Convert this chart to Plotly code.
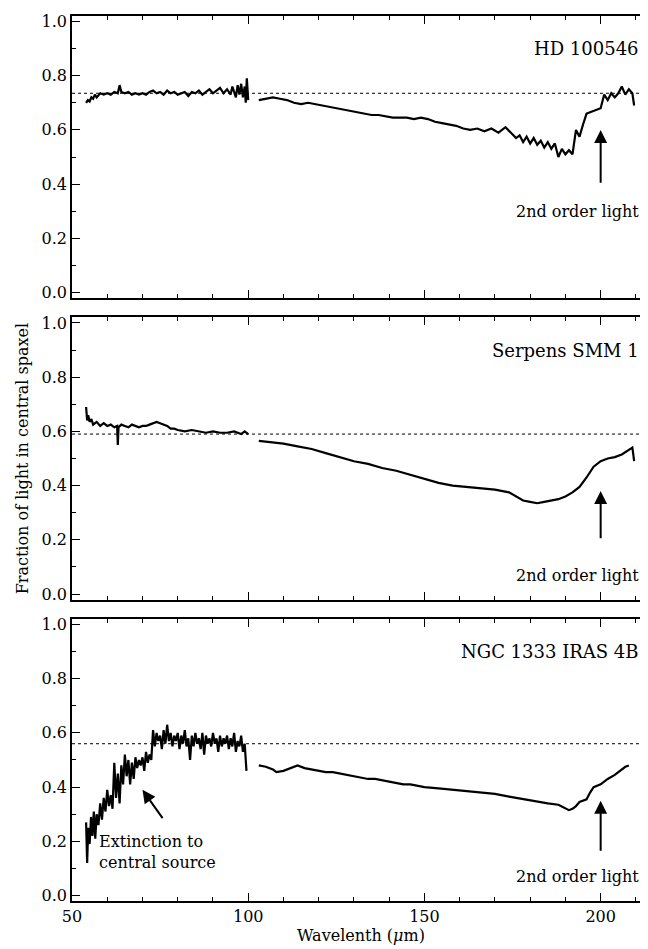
import plotly.graph_objects as go
from plotly.subplots import make_subplots

# ---- data ----
names = ["HD 100546", "Serpens SMM 1", "NGC 1333 IRAS 4B"]
ref_levels = [0.735, 0.59, 0.56]

# HD 100546
hd_x1 = [54, 54.5, 55, 55.5, 56, 56.5, 57, 58, 59, 60, 61, 62, 63, 63.5, 64, 65, 66, 67, 68, 69, 70, 71,
         72, 73, 74, 75, 76, 77, 78, 79, 80, 81, 82, 83, 84, 85, 86, 87, 88, 89, 90, 91, 92, 93, 94,
         95, 95.5, 96, 96.5, 97, 97.5, 98, 98.5, 99, 99.3, 99.6, 100]
hd_y1 = [0.70, 0.71, 0.705, 0.72, 0.715, 0.73, 0.72, 0.735, 0.73, 0.735, 0.73, 0.74, 0.735, 0.765, 0.74,
         0.735, 0.74, 0.73, 0.735, 0.73, 0.735, 0.73, 0.74, 0.745, 0.735, 0.74, 0.73, 0.745, 0.735,
         0.74, 0.73, 0.735, 0.74, 0.725, 0.74, 0.735, 0.745, 0.73, 0.74, 0.75, 0.735, 0.745, 0.755,
         0.735, 0.75, 0.73, 0.76, 0.74, 0.72, 0.765, 0.73, 0.77, 0.72, 0.76, 0.70, 0.79, 0.71]
hd_x2 = [103, 105, 107, 109, 111, 113, 115, 117, 119, 121, 123, 125, 127, 129, 131, 133, 135, 137, 139,
         141, 143, 145, 147, 149, 151, 153, 155, 157, 159, 161, 163, 165, 167, 169, 171, 173, 175,
         176, 177, 178, 179, 180, 181, 182, 183, 184, 185, 186, 187, 188, 189, 190, 191, 192, 193,
         194, 195, 196, 197, 198, 199, 200, 201, 202, 203, 204, 205, 206, 207, 208, 209, 209.5]
hd_y2 = [0.71, 0.715, 0.72, 0.715, 0.71, 0.70, 0.695, 0.70, 0.695, 0.69, 0.685, 0.68, 0.675, 0.67, 0.665,
         0.66, 0.655, 0.655, 0.65, 0.645, 0.645, 0.645, 0.64, 0.645, 0.64, 0.63, 0.625, 0.62, 0.615,
         0.605, 0.60, 0.605, 0.595, 0.605, 0.59, 0.61, 0.585, 0.57, 0.58, 0.555, 0.575, 0.55, 0.57,
         0.545, 0.56, 0.535, 0.555, 0.53, 0.55, 0.50, 0.53, 0.51, 0.525, 0.51, 0.60, 0.575, 0.62,
         0.66, 0.665, 0.67, 0.675, 0.68, 0.73, 0.71, 0.735, 0.72, 0.735, 0.76, 0.73, 0.75, 0.735, 0.69]

# Serpens SMM 1
sp_x1 = [54, 54.3, 54.6, 55, 55.5, 56, 57, 58, 59, 60, 61, 62, 62.8, 63, 63.2, 64, 65, 66, 67, 68, 69,
         70, 71, 72, 73, 74, 75, 76, 77, 78, 79, 80, 82, 84, 86, 88, 90, 92, 94, 96, 98, 99, 100]
sp_y1 = [0.69, 0.64, 0.66, 0.635, 0.645, 0.625, 0.635, 0.62, 0.63, 0.62, 0.625, 0.615, 0.62, 0.55, 0.615,
         0.625, 0.62, 0.615, 0.625, 0.62, 0.615, 0.62, 0.62, 0.625, 0.63, 0.635, 0.63, 0.625, 0.62,
         0.61, 0.61, 0.605, 0.60, 0.605, 0.60, 0.595, 0.60, 0.595, 0.595, 0.60, 0.59, 0.60, 0.59]
sp_x2 = [103, 106, 110, 114, 118, 122, 126, 130, 134, 138, 142, 146, 150, 154, 158, 162, 166, 170, 174,
         176, 178, 180, 182, 184, 186, 188, 190, 192, 194, 196, 198, 200, 202, 204, 206, 208, 209, 209.5]
sp_y2 = [0.565, 0.56, 0.555, 0.545, 0.535, 0.52, 0.505, 0.49, 0.48, 0.465, 0.455, 0.44, 0.425, 0.41,
         0.40, 0.395, 0.39, 0.385, 0.375, 0.36, 0.345, 0.34, 0.335, 0.34, 0.345, 0.35, 0.36, 0.375,
         0.395, 0.43, 0.47, 0.49, 0.50, 0.505, 0.515, 0.53, 0.54, 0.49]

# NGC 1333 IRAS 4B
ng_x1 = [54, 54.3, 54.6, 55, 55.4, 55.8, 56.2, 56.6, 57, 57.5, 58, 58.5, 59, 59.5, 60, 60.5, 61, 61.5,
         62, 62.5, 63, 63.5, 64, 64.5, 65, 65.5, 66, 66.5, 67, 67.5, 68, 68.5, 69, 69.5, 70, 70.5,
         71, 71.5, 72, 72.5, 73, 73.5, 74, 74.5, 75, 75.5, 76, 76.5, 77, 77.5, 78, 78.5, 79, 79.5,
         80, 80.5, 81, 81.5, 82, 82.5, 83, 83.5, 84, 84.5, 85, 85.5, 86, 86.5, 87, 87.5, 88, 88.5,
         89, 89.5, 90, 90.5, 91, 91.5, 92, 92.5, 93, 93.5, 94, 94.5, 95, 95.5, 96, 96.5, 97, 97.5,
         98, 98.5, 99, 99.5, 100]
ng_y1 = [0.27, 0.12, 0.25, 0.19, 0.29, 0.22, 0.31, 0.21, 0.30, 0.26, 0.34, 0.28, 0.36, 0.31, 0.39, 0.33,
         0.37, 0.32, 0.49, 0.36, 0.45, 0.34, 0.48, 0.41, 0.52, 0.44, 0.50, 0.41, 0.49, 0.43, 0.51, 0.47,
         0.50, 0.48, 0.51, 0.46, 0.53, 0.49, 0.52, 0.50, 0.61, 0.55, 0.60, 0.57, 0.59, 0.54, 0.61, 0.56,
         0.63, 0.57, 0.60, 0.55, 0.59, 0.57, 0.60, 0.54, 0.59, 0.56, 0.61, 0.55, 0.58, 0.50, 0.59, 0.55,
         0.60, 0.56, 0.58, 0.54, 0.60, 0.52, 0.59, 0.56, 0.58, 0.55, 0.60, 0.56, 0.58, 0.53, 0.59, 0.55,
         0.58, 0.56, 0.59, 0.54, 0.58, 0.55, 0.60, 0.53, 0.57, 0.55, 0.59, 0.53, 0.56, 0.46]
ng_x2 = [103, 105, 107, 108, 110, 112, 113, 114, 116, 118, 120, 122, 124, 126, 128, 130, 132, 134, 136,
         138, 140, 142, 144, 146, 148, 150, 154, 158, 162, 166, 170, 174, 178, 182, 185, 188, 190,
         191, 192, 193, 194, 195, 196, 197, 198, 200, 202, 204, 206, 207, 208]
ng_y2 = [0.48, 0.475, 0.465, 0.455, 0.46, 0.47, 0.475, 0.48, 0.47, 0.465, 0.46, 0.455, 0.455, 0.45,
         0.445, 0.44, 0.435, 0.43, 0.43, 0.425, 0.42, 0.415, 0.41, 0.41, 0.405, 0.40, 0.395, 0.39,
         0.385, 0.38, 0.375, 0.365, 0.355, 0.345, 0.34, 0.335, 0.32, 0.315, 0.32, 0.33, 0.345, 0.35,
         0.355, 0.38, 0.40, 0.41, 0.43, 0.445, 0.465, 0.475, 0.48]

segments = [[(hd_x1, hd_y1), (hd_x2, hd_y2)],
            [(sp_x1, sp_y1), (sp_x2, sp_y2)],
            [(ng_x1, ng_y1), (ng_x2, ng_y2)]]
arrow_y = [(0.40, 0.60), (0.20, 0.38), (0.16, 0.35)]
label_y = [0.30, 0.07, 0.07]

font = "DejaVu Serif"
fig = make_subplots(rows=3, cols=1, shared_xaxes=True, vertical_spacing=0.022)

for i in range(3):
    r = i + 1
    for xs, ys in segments[i]:
        fig.add_trace(go.Scatter(x=xs, y=ys, mode="lines", line=dict(color="black", width=2.2),
                                 showlegend=False), row=r, col=1)
    fig.add_trace(go.Scatter(x=[50, 211], y=[ref_levels[i]] * 2, mode="lines",
                             line=dict(color="black", width=1, dash="dot"), showlegend=False),
                  row=r, col=1)
    xr = "x domain" if r == 1 else f"x{r} domain"
    xd = "x" if r == 1 else f"x{r}"
    yr = "y" if r == 1 else f"y{r}"
    fig.add_annotation(x=0.985, y=0.9, xref=xr, yref=yr, text=names[i], showarrow=False,
                       xanchor="right", font=dict(size=18, family=font, color="black"))
    fig.add_annotation(x=0.985, y=label_y[i], xref=xr, yref=yr, text="2nd order light",
                       showarrow=False, xanchor="right", font=dict(size=16, family=font, color="black"))
    fig.add_annotation(x=200, y=arrow_y[i][1], ax=200, ay=arrow_y[i][0], xref=xd, yref=yr,
                       axref=xd, ayref=yr, text="", showarrow=True, arrowhead=2, arrowsize=1.3,
                       arrowwidth=2, arrowcolor="black")

fig.add_annotation(x=70, y=0.39, ax=76, ay=0.28, xref="x3", yref="y3", axref="x3", ayref="y3",
                   text="", showarrow=True, arrowhead=2, arrowsize=1.3, arrowwidth=2,
                   arrowcolor="black")
fig.add_annotation(x=57, y=0.16, xref="x3", yref="y3", xanchor="left", align="left",
                   text="Extinction to<br>central source", showarrow=False,
                   font=dict(size=16, family=font, color="black"))

axstyle = dict(showline=True, linecolor="black", linewidth=1.5, mirror="ticks", ticks="inside",
               ticklen=8, tickwidth=1.2, tickcolor="black", showgrid=False, zeroline=False,
               tickfont=dict(size=16, family=font, color="black"),
               minor=dict(ticks="inside", ticklen=4, tickcolor="black"))
fig.update_xaxes(range=[50, 214], dtick=50, minor_dtick=10, **axstyle)
fig.update_yaxes(range=[-0.02, 1.02], dtick=0.2, minor_dtick=0.1, tickformat=".1f", **axstyle)
fig.update_xaxes(title=dict(text="Wavelenth (<i>μ</i>m)", standoff=4,
                            font=dict(size=16, family=font, color="black")), row=3, col=1)
fig.add_annotation(x=-0.105, y=0.5, xref="paper", yref="paper", text="Fraction of light in central spaxel",
                   textangle=-90, showarrow=False, font=dict(size=16, family=font, color="black"))

fig.update_layout(width=648, height=949, plot_bgcolor="white", paper_bgcolor="white",
                  margin=dict(l=64, r=4, t=8, b=56))
fig.write_html("out.html")
